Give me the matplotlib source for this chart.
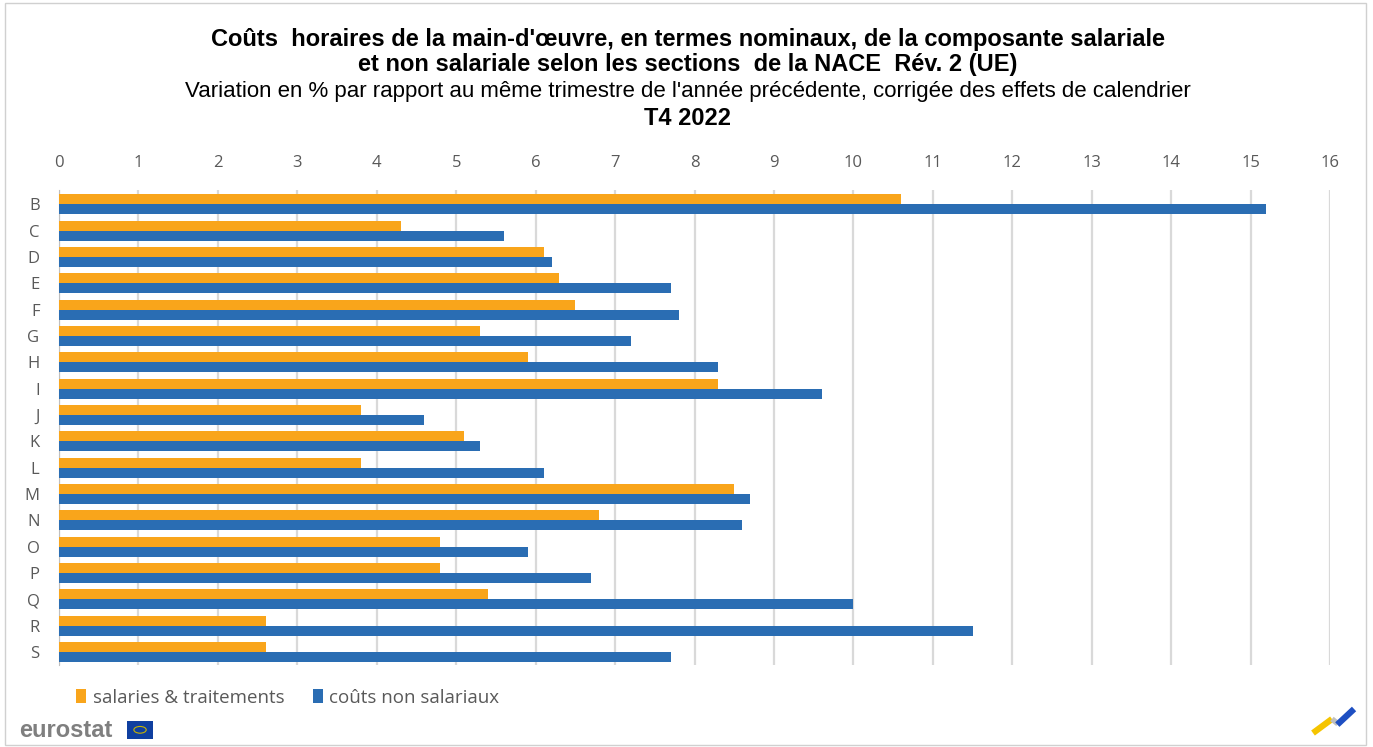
import matplotlib.pyplot as plt
from matplotlib.patches import Rectangle
from matplotlib.lines import Line2D
import numpy as np

plt.rcParams['font.family'] = ['Liberation Sans', 'DejaVu Sans']

sections = ['B', 'C', 'D', 'E', 'F', 'G', 'H', 'I', 'J', 'K',
            'L', 'M', 'N', 'O', 'P', 'Q', 'R', 'S']
salaires = [10.6, 4.3, 6.1, 6.3, 6.5, 5.3, 5.9, 8.3, 3.8, 5.1,
            3.8, 8.5, 6.8, 4.8, 4.8, 5.4, 2.6, 2.6]
non_salariaux = [15.2, 5.6, 6.2, 7.7, 7.8, 7.2, 8.3, 9.6, 4.6, 5.3,
                 6.1, 8.7, 8.6, 5.9, 6.7, 10.0, 11.5, 7.7]
xticks = list(range(0, 17))

orange = '#F9A51B'
blue = '#2A6DB3'
grey_txt = '#595959'

fig = plt.figure(figsize=(13.73, 7.47), dpi=100)
ax = fig.add_axes([0.043, 0.1098, 0.9257, 0.6359])

y = np.arange(len(sections))
h = 0.38
ax.barh(y - h / 2, salaires, height=h, color=orange, label='salaries & traitements', zorder=3)
ax.barh(y + h / 2, non_salariaux, height=h, color=blue, label='coûts non salariaux', zorder=3)

ax.set_xlim(0, 16)
ax.set_ylim(17.5, -0.55)
ax.set_xticks(xticks)
ax.set_yticks(y)
ax.set_yticklabels(sections)
ax.xaxis.tick_top()
ax.tick_params(axis='x', length=0, labelsize=12, labelcolor=grey_txt, pad=14)
ax.tick_params(axis='y', length=0, labelsize=12, labelcolor=grey_txt, pad=14)
for lab in ax.get_xticklabels() + ax.get_yticklabels():
    lab.set_family(['Open Sans', 'DejaVu Sans'])
ax.grid(axis='x', color='#D9D9D9', linewidth=1.6, zorder=0)
for s in ['top', 'right', 'bottom']:
    ax.spines[s].set_visible(False)
ax.spines['left'].set_color('#BFBFBF')

# titres
fig.text(0.501, 0.947, "Coûts  horaires de la main-d'œuvre, en termes nominaux, de la composante salariale",
         ha='center', va='center', fontsize=17, fontweight='bold')
fig.text(0.501, 0.913, "et non salariale selon les sections  de la NACE  Rév. 2 (UE)",
         ha='center', va='center', fontsize=17, fontweight='bold')
fig.text(0.501, 0.877, "Variation en % par rapport au même trimestre de l'année précédente, corrigée des effets de calendrier",
         ha='center', va='center', fontsize=16)
fig.text(0.501, 0.841, "T4 2022", ha='center', va='center', fontsize=17, fontweight='bold')

# légende
handles, labels = ax.get_legend_handles_labels()
leg = fig.legend(handles, labels, loc='center left', bbox_to_anchor=(0.043, 0.066),
                 ncol=2, frameon=False, handlelength=0.55, handleheight=0.8,
                 handletextpad=0.35, columnspacing=1.5,
                 prop={'family': ['Open Sans', 'DejaVu Sans'], 'size': 13.5})
for t in leg.get_texts():
    t.set_color(grey_txt)

# marque eurostat
fig.text(0.014, 0.022, 'eurostat', fontsize=17, fontweight='bold', color='#7F7F7F',
         family=['Liberation Sans', 'DejaVu Sans'], ha='left', va='center')
fig.patches.append(Rectangle((0.0925, 0.011), 0.0190, 0.024, transform=fig.transFigure,
                             facecolor='#0F3FA0', edgecolor='none'))
fig.patches.append(plt.Circle((0.1020, 0.023), 0.0045, transform=fig.transFigure,
                              facecolor='none', edgecolor='#C8B400', linewidth=0.8))

# petit logo en bas à droite
fig.add_artist(Line2D([0.9563, 0.9701], [0.0187, 0.0375], transform=fig.transFigure,
                      color='#F5C400', linewidth=4.5, solid_capstyle='butt'))
fig.add_artist(Line2D([0.9701, 0.9745], [0.0375, 0.031], transform=fig.transFigure,
                      color='#C0C0C0', linewidth=4, solid_capstyle='butt'))
fig.add_artist(Line2D([0.9740, 0.9862], [0.030, 0.0509], transform=fig.transFigure,
                      color='#1E4FC2', linewidth=4.5, solid_capstyle='butt'))

# cadre
fig.patches.append(Rectangle((0.004, 0.003), 0.991, 0.993, transform=fig.transFigure,
                             facecolor='none', edgecolor='#D0D0D0', linewidth=1))

fig.savefig('out.png', dpi=100)
